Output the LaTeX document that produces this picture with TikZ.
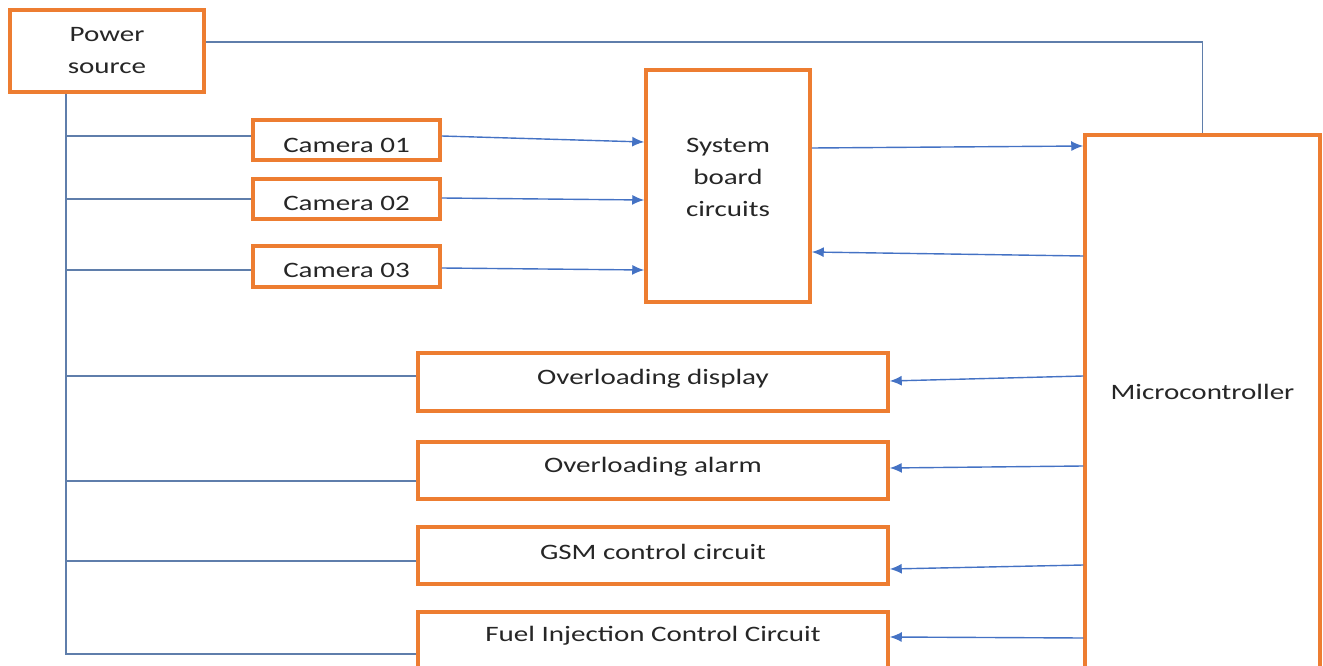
\documentclass[tikz,border=0pt]{standalone}
\usepackage{fontspec}
\setmainfont{Carlito}[FakeStretch=1.32]
\usetikzlibrary{arrows.meta}
\definecolor{boxor}{HTML}{ED7D31}
\definecolor{wirec}{HTML}{5F7EAB}
\definecolor{arrc}{HTML}{4472C4}
\begin{document}
\begin{tikzpicture}[x=1pt,y=1pt,
  box/.style={draw=boxor, line width=3.5pt, fill=white, inner sep=0pt, minimum width=#1},
  txt/.style={font=\fontsize{22}{32}\selectfont, align=center, text=black!85, inner sep=0pt},
  wire/.style={draw=wirec, line width=1.3pt},
  arr/.style={draw=arrc, line width=1.4pt, -{Latex[length=12pt,width=10pt]}}]
\useasboundingbox (0,0) rectangle (1323,-666);
% boxes
\node[box=194pt, minimum height=82pt, label={[txt]center:Power\\source}] (power) at (107,-51) {};
\node[box=187pt, minimum height=40pt, label={[txt,yshift=-5pt]center:Camera 01}] (cam1) at (346.5,-140) {};
\node[box=187pt, minimum height=40pt, label={[txt,yshift=-4pt]center:Camera 02}] (cam2) at (346.5,-199) {};
\node[box=187pt, minimum height=41pt, label={[txt,yshift=-4pt]center:Camera 03}] (cam3) at (346.5,-266.5) {};
\node[box=164pt, minimum height=232pt, label={[txt,yshift=9pt]center:System\\board\\circuits}] (sys) at (728,-186) {};
\node[box=235pt, minimum height=545pt, label={[txt,yshift=15.5pt]center:Microcontroller}] (micro) at (1202.5,-407.5) {};
\node[box=470pt, minimum height=58pt, label={[txt,yshift=3pt]center:Overloading display}] (disp) at (653,-382) {};
\node[box=470pt, minimum height=57pt, label={[txt,yshift=3.5pt]center:Overloading alarm}] (alarm) at (653,-470.5) {};
\node[box=470pt, minimum height=57pt, label={[txt,yshift=3.5pt]center:GSM control circuit}] (gsm) at (653,-555.5) {};
\node[box=470pt, minimum height=68pt, label={[txt,yshift=10pt]center:Fuel Injection Control Circuit}] (fuel) at (653,-646) {};
% power bus
\coordinate (bus) at (66,-654);
\draw[wire] (power.south -| bus) -- (bus) -- (bus -| fuel.west);
\draw[wire] ([yshift=4pt]cam1.west) -- ([yshift=4pt]cam1.west -| bus);
\draw[wire] (cam2.west) -- (cam2.west -| bus);
\draw[wire] ([yshift=-3.5pt]cam3.west) -- ([yshift=-3.5pt]cam3.west -| bus);
\draw[wire] ([yshift=6pt]disp.west) -- ([yshift=6pt]disp.west -| bus);
\draw[wire] ([yshift=-10.5pt]alarm.west) -- ([yshift=-10.5pt]alarm.west -| bus);
\draw[wire] ([yshift=-5.5pt]gsm.west) -- ([yshift=-5.5pt]gsm.west -| bus);
\draw[wire] ([yshift=9pt]power.east) -| (micro.north);
% arrows
\draw[arr] ([yshift=4pt]cam1.east) -- ([yshift=44pt]sys.west);
\draw[arr] ([yshift=1pt]cam2.east) -- ([yshift=-14pt]sys.west);
\draw[arr] ([yshift=-1.5pt]cam3.east) -- ([yshift=-84pt]sys.west);
\draw[arr] ([yshift=38pt]sys.east) -- ([yshift=261.5pt]micro.west);
\draw[arr] ([yshift=151.5pt]micro.west) -- ([yshift=-66pt]sys.east);
\draw[arr] ([yshift=31.5pt]micro.west) -- ([yshift=1pt]disp.east);
\draw[arr] ([yshift=-58.5pt]micro.west) -- ([yshift=2.5pt]alarm.east);
\draw[arr] ([yshift=-157.5pt]micro.west) -- ([yshift=-13.5pt]gsm.east);
\draw[arr] ([yshift=-230.5pt]micro.west) -- ([yshift=9pt]fuel.east);
\end{tikzpicture}
\end{document}
